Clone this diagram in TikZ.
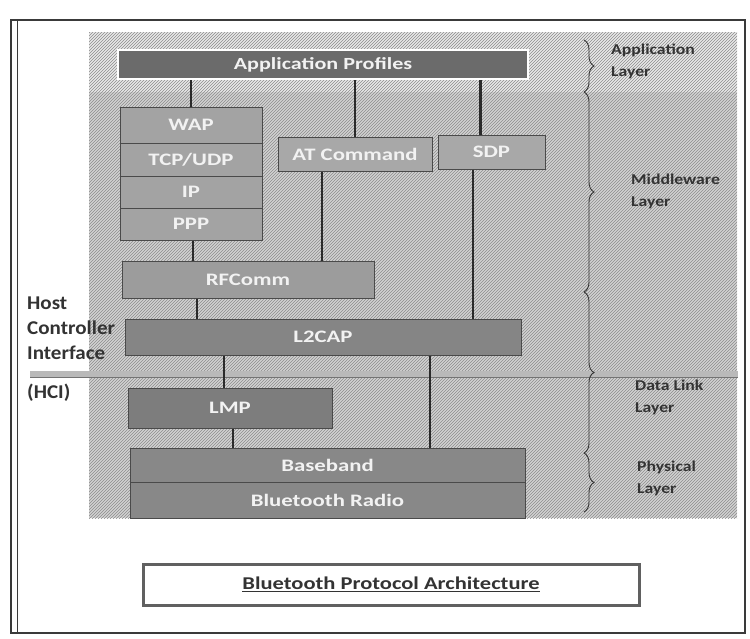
\documentclass[tikz,border=0pt]{standalone}
\usepackage{fontspec}
\setmainfont{Carlito}
\newfontfamily\boxfont[FakeStretch=1.3]{Carlito}
\newfontfamily\capfont[FakeStretch=1.25]{Carlito}
\newfontfamily\lblfont[FakeStretch=1.18]{Carlito}
\newfontfamily\hostfont[FakeStretch=1.08]{Carlito}
\usetikzlibrary{patterns,decorations.pathreplacing}
\definecolor{frameC}{HTML}{3A3A3A}
\definecolor{appC}{HTML}{6B6B6B}
\definecolor{stackC}{HTML}{A3A3A3}
\definecolor{atC}{HTML}{A8A8A8}
\definecolor{rfC}{HTML}{9C9C9C}
\definecolor{l2C}{HTML}{858585}
\definecolor{lmpC}{HTML}{7D7D7D}
\definecolor{bbC}{HTML}{888888}
\definecolor{edgeC}{HTML}{4A4A4A}
\definecolor{connC}{HTML}{2A2A2A}
\definecolor{labelC}{HTML}{333333}
\definecolor{hatchC}{HTML}{8C8C8C}
\definecolor{bgTop}{HTML}{E8E8E8}
\definecolor{bgMid}{HTML}{D2D2D2}
\definecolor{boxText}{HTML}{F2F2F2}
\begin{document}
\begin{tikzpicture}[x=1pt,y=-1pt,
  layerbox/.style={draw=edgeC, line width=1pt, text=boxText, inner sep=0pt,
    font=\boxfont\fontsize{17.5}{19}\selectfont\bfseries},
  conn/.style={draw=connC, line width=2.8pt},
  lbl/.style={text=labelC, align=left, anchor=west, inner sep=0pt,
    font=\lblfont\fontsize{15}{22}\selectfont\bfseries},
  hostlbl/.style={text=labelC, align=left, anchor=west, inner sep=0pt,
    font=\hostfont\fontsize{19.5}{25}\selectfont\bfseries},
  bracestyle/.style={draw=labelC, line width=0.9pt,
    decorate, decoration={brace, amplitude=10pt}}]
\useasboundingbox (0,0) rectangle (750,638);
\fill[white] (0,0) rectangle (750,638);
% outer frame
\draw[frameC, line width=2.2pt] (11,20) rectangle (745,633);
\draw[frameC, line width=0.8pt] (17,21) -- (17,632);
% hatched background
\fill[bgTop] (89,32) rectangle (737,92);
\fill[bgMid] (89,92) rectangle (737,518);
\fill[pattern=north east lines, pattern color=hatchC] (89,32) rectangle (737,518);
% HCI line
\coordinate (hciL) at (30,374);
\coordinate (hciR) at (738,374);
\draw[line width=6pt, color=gray!55] (hciL) -- (hciR);
\draw[line width=1pt, color=gray!90!black] ([yshift=-3pt]hciL) -- ([yshift=-3pt]hciR);
% nodes
\node[layerbox, fill=appC, draw=white, line width=2pt, minimum width=410pt, minimum height=29pt,
  font=\boxfont\fontsize{17}{19}\selectfont\bfseries] (app) at (323,64.5) {Application Profiles};
\node[layerbox, fill=stackC, minimum width=142pt, minimum height=36pt] (wap) at (191,125) {WAP};
\node[layerbox, fill=stackC, minimum width=142pt, minimum height=33pt] (tcp) at (191,159.5) {TCP/UDP};
\node[layerbox, fill=stackC, minimum width=142pt, minimum height=32pt] (ip) at (191,192) {IP};
\node[layerbox, fill=stackC, minimum width=142pt, minimum height=32pt] (ppp) at (191,224) {PPP};
\node[layerbox, fill=atC, minimum width=154pt, minimum height=34pt] (at) at (355,154) {AT Command};
\node[layerbox, fill=atC, minimum width=107pt, minimum height=34pt] (sdp) at (491.5,152) {SDP};
\node[layerbox, fill=rfC, minimum width=252pt, minimum height=37pt] (rf) at (248,279.5) {RFComm};
\node[layerbox, fill=l2C, minimum width=396pt, minimum height=36pt] (l2) at (323,337) {L2CAP};
\node[layerbox, fill=lmpC, minimum width=204pt, minimum height=40pt] (lmp) at (230,408) {LMP};
\node[layerbox, fill=bbC, minimum width=395pt, minimum height=34pt] (bb) at (327.5,465) {Baseband};
\node[layerbox, fill=bbC, minimum width=395pt, minimum height=36pt] (radio) at (327.5,500) {Bluetooth Radio};
% connectors
\draw[conn] (wap.north) -- (wap.north |- app.south);
\draw[conn] (at.north) -- (at.north |- app.south);
\draw[conn] ([xshift=-11pt]sdp.north) -- ([xshift=-11pt]sdp.north |- app.south);
\draw[conn] ([xshift=-33pt]at.south) -- ([xshift=-33pt]at.south |- rf.north);
\draw[conn] ([xshift=2pt]ppp.south) -- ([xshift=2pt]ppp.south |- rf.north);
\draw[conn] ([xshift=-51pt]rf.south) -- ([xshift=-51pt]rf.south |- l2.north);
\draw[conn] ([xshift=-18.5pt]sdp.south) -- ([xshift=-18.5pt]sdp.south |- l2.north);
\draw[conn] ([xshift=-6pt]lmp.north |- l2.south) -- ([xshift=-6pt]lmp.north);
\draw[conn] ([xshift=107pt]l2.south) -- ([xshift=107pt]l2.south |- bb.north);
\draw[conn] ([xshift=3pt]lmp.south) -- ([xshift=3pt]lmp.south |- bb.north);
% braces
\coordinate (b0) at (584,40);
\coordinate (b1) at (584,92);
\coordinate (b2) at (584,292);
\coordinate (b3) at (584,453);
\coordinate (b4) at (584,512);
\draw[bracestyle] (b0) -- (b1);
\draw[bracestyle] (b1) -- (b2);
\draw[bracestyle] (b2) -- (b3);
\draw[bracestyle] (b3) -- (b4);
% layer labels
\node[lbl] (lapp) at (611,61) {Application\\Layer};
\node[lbl] (lmid) at (631,191) {Middleware\\Layer};
\node[lbl] (ldl) at (635,397) {Data Link\\Layer};
\node[lbl] (lphy) at (637,478) {Physical\\Layer};
\node[hostlbl] (host) at (27,328) {Host\\Controller\\Interface};
\node[hostlbl] (hci) at (27,393) {(HCI)};
% caption
\node[draw=gray!75!black, line width=3pt, fill=white, minimum width=496pt, minimum height=41pt,
  text=labelC, font=\capfont\fontsize{18}{20}\selectfont\bfseries] (cap) at (391,584.5)
  {\underline{Bluetooth Protocol Architecture}};
\end{tikzpicture}
\end{document}
